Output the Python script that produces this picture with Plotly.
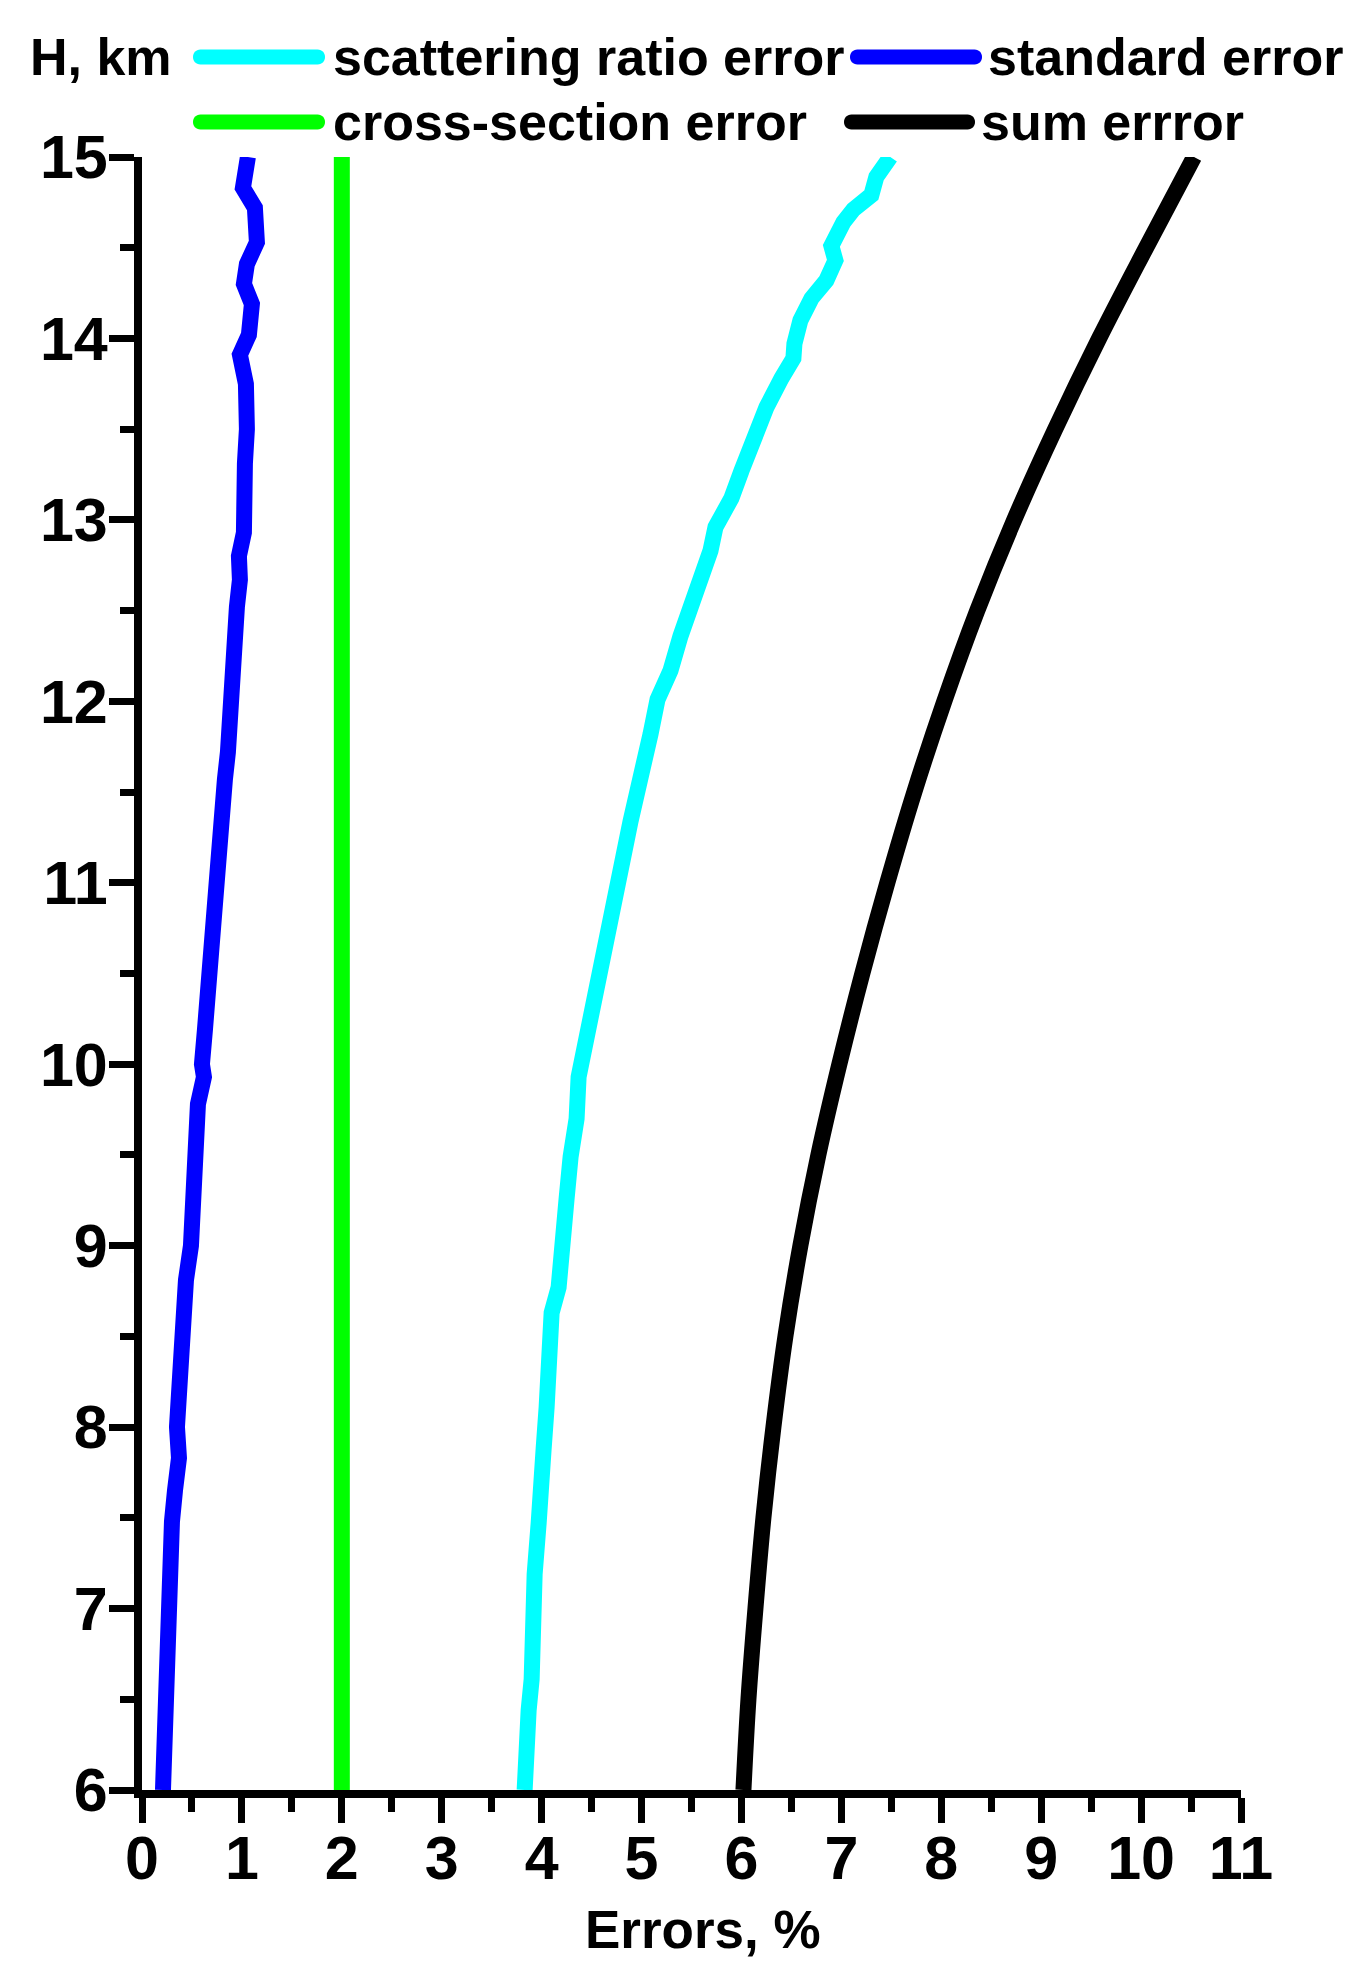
import plotly.graph_objects as go

# ---------------- data ----------------
std_h = [6.0, 6.19, 6.33, 6.5, 6.76, 6.96, 7.19, 7.48, 7.65, 7.83, 8.0, 8.23, 8.46, 8.63, 8.81,
         9.0, 9.15, 9.41, 9.55, 9.78, 9.93, 10.0, 10.19, 10.36, 10.49, 10.71, 10.93, 11.09,
         11.34, 11.47, 11.57, 11.72, 11.98, 12.17, 12.36, 12.52, 12.67, 12.8, 12.93, 13.12,
         13.31, 13.5, 13.75, 13.91, 14.02, 14.19, 14.3, 14.41, 14.53, 14.72, 14.83, 15.0]
std_err = [0.21, 0.22, 0.23, 0.23, 0.24, 0.26, 0.29, 0.30, 0.33, 0.37, 0.35, 0.37, 0.42, 0.44, 0.44,
           0.49, 0.51, 0.51, 0.55, 0.56, 0.62, 0.60, 0.63, 0.65, 0.68, 0.71, 0.73, 0.76,
           0.79, 0.82, 0.83, 0.86, 0.88, 0.91, 0.93, 0.95, 0.98, 0.97, 1.02, 1.01,
           1.03, 1.05, 1.04, 0.98, 1.07, 1.10, 1.02, 1.05, 1.15, 1.13, 1.01, 1.06]

scat_h = [6.0, 6.18, 6.44, 6.61, 6.9, 7.19, 7.47, 7.76, 7.88, 8.11, 8.34, 8.63, 8.77, 9.06, 9.26,
          9.49, 9.7, 9.93, 10.13, 10.36, 10.58, 10.77, 10.96, 11.15, 11.34, 11.5, 11.66, 11.82,
          12.01, 12.17, 12.36, 12.51, 12.7, 12.83, 12.96, 13.12, 13.27, 13.46, 13.62, 13.78,
          13.89, 13.97, 14.1, 14.22, 14.32, 14.43, 14.51, 14.64, 14.71, 14.79, 14.89, 15.0]
scat_err = [3.83, 3.83, 3.87, 3.90, 3.91, 3.93, 3.97, 3.98, 4.02, 4.05, 4.08, 4.10, 4.17, 4.20, 4.25,
            4.29, 4.35, 4.37, 4.45, 4.53, 4.60, 4.69, 4.75, 4.82, 4.89, 4.97, 5.02, 5.09,
            5.16, 5.29, 5.39, 5.49, 5.59, 5.69, 5.74, 5.90, 6.00, 6.12, 6.25, 6.40,
            6.52, 6.53, 6.59, 6.70, 6.85, 6.94, 6.90, 7.02, 7.12, 7.30, 7.35, 7.49]

cross_h = [6.0, 15.0]
cross_err = [2.0, 2.0]

sum_h = [6.0, 6.5, 7.0, 7.5, 8.0, 8.5, 9.0, 9.5, 10.0, 10.5, 11.0, 11.5, 12.0, 12.5,
         13.0, 13.5, 14.0, 14.5, 15.0]
sum_err = [6.02, 6.07, 6.14, 6.22, 6.32, 6.44, 6.59, 6.77, 6.98, 7.21, 7.46, 7.73, 8.03, 8.36,
           8.73, 9.14, 9.58, 10.05, 10.53]

x_ticks = list(range(0, 12))
y_ticks = list(range(6, 16))

legend_names = ["scattering ratio error", "standard error", "cross-section error", "sum errror"]
legend_colors = ["#00FFFF", "#0000FF", "#00FF00", "#000000"]

# ---------------- figure ----------------
W, H = 1371, 1971
OFF = 8  # page body margin
ML, MR, MT, MB = 142, 130, 157, 181
PW, PH = W - ML - MR, H - MT - MB
FONT = "Liberation Sans, Arial, sans-serif"
LW = 16

fig = go.Figure()
fig.add_trace(go.Scatter(x=cross_err, y=cross_h, mode="lines",
                         line=dict(color=legend_colors[2], width=LW), showlegend=False))
fig.add_trace(go.Scatter(x=std_err, y=std_h, mode="lines",
                         line=dict(color=legend_colors[1], width=LW), showlegend=False))
fig.add_trace(go.Scatter(x=scat_err, y=scat_h, mode="lines",
                         line=dict(color=legend_colors[0], width=LW), showlegend=False))
fig.add_trace(go.Scatter(x=sum_err, y=sum_h, mode="lines",
                         line=dict(color=legend_colors[3], width=LW, shape="spline"),
                         showlegend=False))


def px_x(p):
    return (p - ML) / PW


def px_y(p):
    return (H - MB - p) / PH


annotations = []
shapes = []

annotations.append(dict(text="H, km", x=px_x(28), y=px_y(57), xref="paper", yref="paper",
                        xanchor="left", yanchor="middle", showarrow=False,
                        font=dict(family=FONT, size=52, color="black", weight="bold")))

leg_items = [
    (legend_names[0], legend_colors[0], 193, 325, 331, 57),
    (legend_names[1], legend_colors[1], 850, 982, 986, 57),
    (legend_names[2], legend_colors[2], 193, 325, 331, 122),
    (legend_names[3], legend_colors[3], 844, 975, 979, 122),
]
r = 7.5
for name, col, x0, x1, tx, yy in leg_items:
    L = x1 - x0 - 2 * r
    k = 1.333 * r
    path = (f"M {r},{-r} L {r + L},{-r} C {r + L + k},{-r} {r + L + k},{r} {r + L},{r} "
            f"L {r},{r} C {r - k},{r} {r - k},{-r} {r},{-r} Z")
    shapes.append(dict(type="path", xref="paper", yref="paper", xsizemode="pixel",
                       ysizemode="pixel", xanchor=px_x(x0), yanchor=px_y(yy), path=path,
                       fillcolor=col, line=dict(width=0)))
    annotations.append(dict(text=name, x=px_x(tx), y=px_y(yy), xref="paper", yref="paper",
                            xanchor="left", yanchor="middle", showarrow=False,
                            font=dict(family=FONT, size=52, color="black", weight="bold")))

annotations.append(dict(text="Errors, %", x=px_x(703), y=px_y(1930), xref="paper", yref="paper",
                        xanchor="center", yanchor="middle", showarrow=False,
                        font=dict(family=FONT, size=53, color="black", weight="bold")))

fig.update_layout(
    width=W, height=H,
    margin=dict(l=ML - OFF, r=MR + OFF, t=MT - OFF, b=MB + OFF, pad=0),
    paper_bgcolor="white", plot_bgcolor="white",
    font=dict(family=FONT, color="black"),
    showlegend=False,
    annotations=annotations,
    shapes=shapes,
)

fig.update_xaxes(range=[0, 11], tickvals=x_ticks, ticktext=[str(v) for v in x_ticks],
                 showgrid=False, zeroline=False, showline=True, linecolor="black", linewidth=8,
                 ticks="outside", ticklen=25, tickwidth=7, tickcolor="black",
                 tickfont=dict(family=FONT, size=61, color="black", weight="bold"),
                 ticklabelstandoff=-17, automargin=False,
                 minor=dict(dtick=0.5, tick0=0, ticks="outside", ticklen=14, tickwidth=7,
                            tickcolor="black", showgrid=False))
fig.update_yaxes(range=[6, 15], tickvals=y_ticks, ticktext=[str(v) for v in y_ticks],
                 showgrid=False, zeroline=False, showline=True, linecolor="black", linewidth=8,
                 ticks="outside", ticklen=25, tickwidth=7, tickcolor="black",
                 tickfont=dict(family=FONT, size=61, color="black", weight="bold"),
                 ticklabelstandoff=-11, automargin=False,
                 minor=dict(dtick=0.5, tick0=6, ticks="outside", ticklen=14, tickwidth=7,
                            tickcolor="black", showgrid=False))

fig.write_html("out.html")
